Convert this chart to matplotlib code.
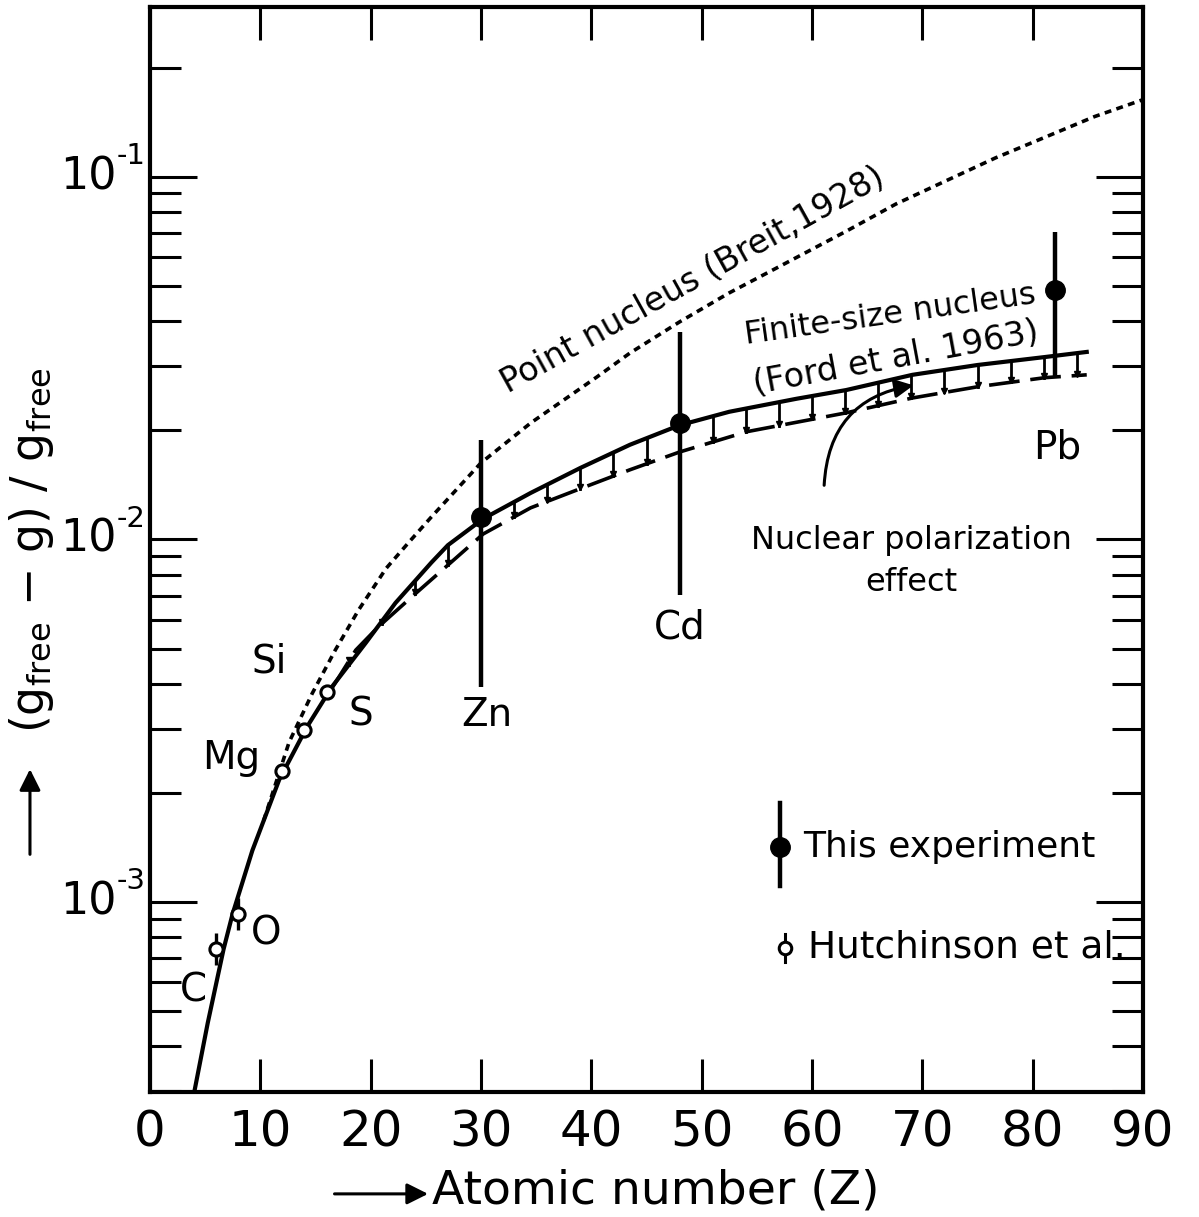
import numpy as np
import matplotlib.pyplot as plt

# finite-size nucleus (Ford et al. 1963), solid curve
fin_z = [4.05, 5.23, 6.67, 7.48, 9.28, 11.71, 14.23, 16.49, 19.55, 22.25, 25.5, 27.0, 30.2,
         34.5, 39.0, 43.5, 48.0, 52.5, 58.6, 63.1, 69.1, 75.0, 81.1, 84.9]
fin_y = [3.03e-4, 4.63e-4, 7.41e-4, 9.25e-4, 1.387e-3, 2.173e-3, 3.04e-3, 3.92e-3, 5.18e-3,
         6.68e-3, 8.63e-3, 9.64e-3, 1.140e-2, 1.343e-2, 1.574e-2, 1.824e-2, 2.065e-2,
         2.249e-2, 2.443e-2, 2.582e-2, 2.844e-2, 3.027e-2, 3.184e-2, 3.289e-2]

# with nuclear polarization, dashed curve
pol_z = [16.5, 18.65, 20.7, 23.7, 26.8, 30.2, 34.5, 39.0, 43.5, 48.0, 54.1, 63.1, 69.1, 75.0, 81.1, 84.9]
pol_y = [3.89e-3, 4.95e-3, 5.74e-3, 6.93e-3, 8.39e-3, 1.035e-2, 1.222e-2, 1.380e-2, 1.556e-2,
         1.742e-2, 1.982e-2, 2.234e-2, 2.455e-2, 2.636e-2, 2.793e-2, 2.844e-2]

# point nucleus (Breit 1928), dotted curve
pt_z = [10.3, 12.6, 14.7, 16.8, 18.9, 21.4, 23.4, 25.5, 30.0, 34.5, 40.5, 43.5, 48.0, 52.5,
        57.0, 63.1, 67.6, 76.6, 85.6, 89.9]
pt_y = [1.675e-3, 2.754e-3, 3.758e-3, 4.955e-3, 6.383e-3, 8.318e-3, 9.77e-3, 1.153e-2,
        1.626e-2, 2.094e-2, 2.805e-2, 3.266e-2, 3.981e-2, 4.786e-2, 5.649e-2, 7.079e-2,
        8.414e-2, 0.1127, 0.1466, 0.1629]

# this experiment
exp_names = ['Zn', 'Cd', 'Pb']
exp_z = [30, 48, 82]
exp_y = [1.153e-2, 2.094e-2, 4.88e-2]
exp_lo = [3.92e-3, 7.03e-3, 2.79e-2]
exp_hi = [1.881e-2, 3.73e-2, 7.05e-2]

# Hutchinson et al.
hut_names = ['C', 'O', 'Mg', 'Si', 'S']
hut_z = [6, 8, 12, 14, 16]
hut_y = [7.41e-4, 9.25e-4, 2.29e-3, 2.98e-3, 3.79e-3]
hut_lo = [6.70e-4, 8.37e-4, 2.29e-3, 2.98e-3, 3.79e-3]
hut_hi = [8.21e-4, 1.025e-3, 2.29e-3, 2.98e-3, 3.79e-3]

hatch_z = [18, 21, 24, 27, 33, 36, 39, 42, 45, 51, 54, 57, 60, 63, 66, 69, 72, 75, 78, 81, 84]

x_ticks = list(range(0, 91, 10))
y_ticks = [1e-3, 1e-2, 1e-1]
y_exps = ['-3', '-2', '-1']

plt.rcParams['font.family'] = 'DejaVu Sans'
plt.rcParams['mathtext.default'] = 'regular'

fig = plt.figure(figsize=(11.99, 12.17), dpi=100)
ax = fig.add_axes([0.1251, 0.1027, 0.8282, 0.8915])
ax.set_yscale('log')
ax.set_xlim(0, 89.4)
ax.set_ylim(2.99e-4, 0.294)

ax.plot(fin_z, fin_y, color='k', lw=3.0)
ax.plot(pol_z, pol_y, color='k', lw=2.6, linestyle=(0, (8.5, 3.0)))
ax.plot(pt_z, pt_y, color='k', lw=2.6, linestyle=(0, (1.9, 1.5)))

# hatching between the two curves, small arrows pointing down
lf_z, lf_y = np.array(fin_z), np.log10(fin_y)
lp_z, lp_y = np.array(pol_z), np.log10(pol_y)
for z in hatch_z:
    top = 10 ** np.interp(z, lf_z, lf_y)
    bot = 10 ** np.interp(z, lp_z, lp_y)
    ax.plot([z, z], [top, bot], color='k', lw=2.0)
    ax.plot(z, bot * 1.012, marker='v', ms=5, color='k')

ax.errorbar(exp_z, exp_y, yerr=[np.subtract(exp_y, exp_lo), np.subtract(exp_hi, exp_y)],
            fmt='o', ms=14, color='k', elinewidth=3.2, capsize=0, zorder=5)
ax.errorbar(hut_z, hut_y, yerr=[np.subtract(hut_y, hut_lo), np.subtract(hut_hi, hut_y)],
            fmt='o', ms=9.5, mfc='white', mec='k', mew=2.2, ecolor='k', elinewidth=2.4,
            capsize=0, zorder=5)

# ticks
ax.set_xticks(x_ticks)
ax.set_yticks(y_ticks)
ax.set_yticklabels([])
ax.yaxis.set_minor_formatter(plt.NullFormatter())
ax.tick_params(which='both', direction='in', top=True, right=True, width=2.2)
ax.tick_params(axis='x', which='major', length=24, labelsize=36, pad=12)
ax.tick_params(axis='y', which='major', length=34)
ax.tick_params(axis='y', which='minor', length=22)
for s in ax.spines.values():
    s.set_linewidth(3)

# y tick labels as "10" with a raised exponent
for v, e in zip(y_ticks, y_exps):
    ax.annotate('10', xy=(0, v), xycoords=('axes fraction', 'data'), xytext=(-24, 0),
                textcoords='offset points', fontsize=32, ha='right', va='center')
    ax.annotate(e, xy=(0, v), xycoords=('axes fraction', 'data'), xytext=(-24, 15),
                textcoords='offset points', fontsize=21, ha='left', va='center')

# element labels
lab_pos = {'Pb': (82.2, 1.79e-2), 'Cd': (48.0, 5.70e-3), 'Zn': (30.5, 3.28e-3),
           'S': (19.1, 3.28e-3), 'Si': (10.8, 4.59e-3), 'Mg': (7.4, 2.49e-3),
           'O': (10.5, 8.20e-4), 'C': (3.9, 5.71e-4)}
for name, (x, y) in lab_pos.items():
    ax.text(x, y, name, fontsize=28, ha='center', va='center')

ax.text(49.2, 0.0520, 'Point nucleus (Breit,1928)', fontsize=24, rotation=29,
        ha='center', va='center', rotation_mode='anchor')
ax.text(67.1, 0.0416, 'Finite-size nucleus', fontsize=23, rotation=8,
        ha='center', va='center', rotation_mode='anchor')
ax.text(67.6, 0.0316, '(Ford et al. 1963)', fontsize=24, rotation=10.5,
        ha='center', va='center', rotation_mode='anchor')
ax.text(69.0, 8.67e-3, 'Nuclear polarization\neffect', fontsize=23, ha='center',
        va='center', linespacing=1.45)
ax.annotate('', xy=(69.2, 0.0266), xytext=(61.1, 0.0141),
            arrowprops=dict(arrowstyle='-|>', lw=2.2, color='k',
                            connectionstyle='arc3,rad=-0.4', mutation_scale=28,
                            shrinkA=0, shrinkB=0))

# legend drawn by hand
ax.plot([0.634, 0.634], [0.190, 0.266], transform=ax.transAxes, color='k', lw=3.2)
ax.plot(0.634, 0.226, 'o', ms=14, color='k', transform=ax.transAxes)
ax.text(0.658, 0.226, 'This experiment', transform=ax.transAxes, fontsize=26, va='center')
ax.plot([0.639, 0.639], [0.120, 0.146], transform=ax.transAxes, color='k', lw=2.2)
ax.plot(0.639, 0.133, 'o', ms=9, mfc='white', mec='k', mew=2.2, transform=ax.transAxes)
ax.text(0.663, 0.133, 'Hutchinson et al.', transform=ax.transAxes, fontsize=27, va='center')

# axis labels with arrows
arrow = dict(arrowstyle='-|>', lw=2.2, color='k', mutation_scale=32, shrinkA=0, shrinkB=0)
fig.text(0.360, 0.021, 'Atomic number (Z)', fontsize=34, ha='left', va='center')
ax.annotate('', xy=(0.357, 0.019), xytext=(0.279, 0.019), xycoords='figure fraction',
            arrowprops=arrow, annotation_clip=False)
fig.text(0.026, 0.548, r'(g$_{free}$ $-$ g) / g$_{free}$', fontsize=33,
         rotation=90, ha='center', va='center')
ax.annotate('', xy=(0.025, 0.368), xytext=(0.025, 0.298), xycoords='figure fraction',
            arrowprops=arrow, annotation_clip=False)

fig.savefig('out.png', dpi=100)
